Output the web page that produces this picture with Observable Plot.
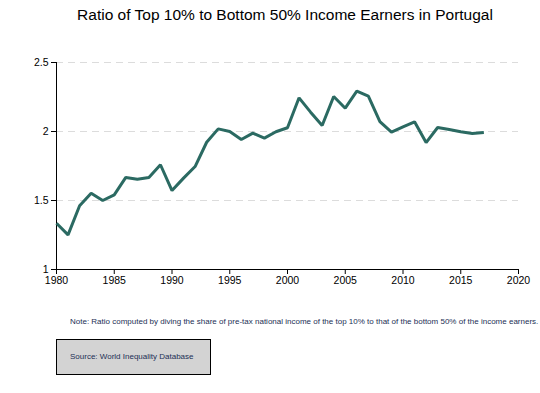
<!DOCTYPE html>
<html>
<head>
<meta charset="utf-8">
<script src="https://cdn.jsdelivr.net/npm/d3@7"></script>
<script src="https://cdn.jsdelivr.net/npm/@observablehq/plot@0.6"></script>
<style>
  html, body { margin: 0; padding: 0; background: #fff; }
  #wrap { position: relative; width: 540px; height: 393px; overflow: hidden; font-family: "Liberation Sans", Arial, sans-serif; }
  #title { position: absolute; left: 0; top: 6px; width: 570px; text-align: center; font-size: 15.5px; color: #000; }
  #chart { position: absolute; left: 0; top: 35px; }
  #note { position: absolute; left: 70px; top: 317px; font-size: 8px; color: #1c2f55; white-space: nowrap; }
  #source { position: absolute; left: 56px; top: 339px; width: 153px; height: 34px; background: #d3d3d3; border: 1px solid #000; box-sizing: content-box; }
  #source span { position: absolute; left: 13px; top: 12px; font-size: 8px; color: #1c2f55; white-space: nowrap; }
</style>
</head>
<body>
<div id="wrap">
  <div id="title"></div>
  <div id="chart"></div>
  <div id="note"></div>
  <div id="source"><span></span></div>
</div>
<script>
const titleText = "Ratio of Top 10% to Bottom 50% Income Earners in Portugal";
const noteText = "Note: Ratio computed by diving the share of pre-tax national income of the top 10% to that of the bottom 50% of the income earners.";
const sourceText = "Source: World Inequality Database";

const years = [1980, 1981, 1982, 1983, 1984, 1985, 1986, 1987, 1988, 1989,
               1990, 1991, 1992, 1993, 1994, 1995, 1996, 1997, 1998, 1999,
               2000, 2001, 2002, 2003, 2004, 2005, 2006, 2007, 2008, 2009,
               2010, 2011, 2012, 2013, 2014, 2015, 2016, 2017];
const ratios = [1.335, 1.251, 1.462, 1.553, 1.500, 1.541, 1.667, 1.654, 1.667, 1.759,
                1.572, 1.662, 1.746, 1.922, 2.019, 2.000, 1.942, 1.988, 1.952, 1.998,
                2.027, 2.244, 2.140, 2.043, 2.254, 2.169, 2.292, 2.256, 2.072, 1.995,
                2.034, 2.070, 1.920, 2.029, 2.014, 1.998, 1.986, 1.993];

const xTicks = [1980, 1985, 1990, 1995, 2000, 2005, 2010, 2015, 2020];
const yTicks = [1, 1.5, 2, 2.5];
const gridValues = [1.5, 2, 2.5];

const data = years.map((year, i) => ({year, ratio: ratios[i]}));

document.getElementById("title").textContent = titleText;
document.getElementById("note").textContent = noteText;
document.querySelector("#source span").textContent = sourceText;

const chart = Plot.plot({
  width: 540,
  height: 265,
  marginTop: 27,
  marginBottom: 31,
  marginLeft: 56,
  marginRight: 22,
  style: {fontFamily: "'Liberation Sans', Arial, sans-serif", fontSize: "10.5px", color: "#000", background: "transparent"},
  x: {domain: [1980, 2020]},
  y: {domain: [1, 2.5]},
  marks: [
    Plot.ruleY(gridValues, {stroke: "#dcdcdc", strokeWidth: 1, strokeDasharray: "7,5"}),
    Plot.axisX({ticks: xTicks, tickSize: 5, tickPadding: 2, tickFormat: d => String(d), label: null, stroke: "#000", strokeOpacity: 1}),
    Plot.axisY({ticks: yTicks, tickSize: 5, tickPadding: 3, tickFormat: d => String(d), label: null, stroke: "#000", strokeOpacity: 1}),
    Plot.ruleX([1980], {stroke: "#000", strokeWidth: 1}),
    Plot.ruleY([1], {stroke: "#000", strokeWidth: 1}),
    Plot.line(data, {x: "year", y: "ratio", stroke: "#2b6a62", strokeWidth: 3, strokeLinejoin: "miter", strokeLinecap: "butt"})
  ]
});
document.getElementById("chart").appendChild(chart);
</script>
</body>
</html>
